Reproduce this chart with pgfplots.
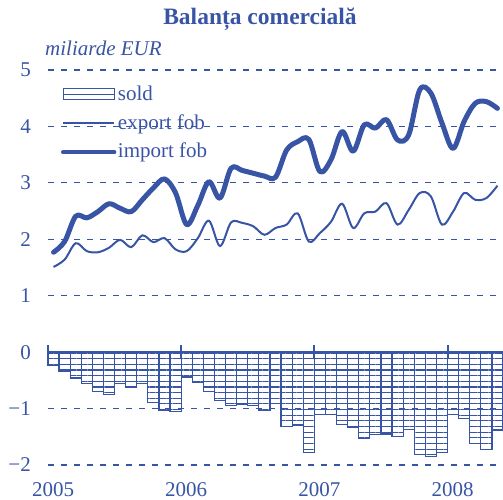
\documentclass[border=0pt]{standalone}
\usepackage{fontspec}
\setmainfont{Liberation Serif}
\usepackage{pgfplots}
\pgfplotsset{compat=1.18}
\usepackage{pgfplotstable}
\usetikzlibrary{patterns.meta}
\definecolor{cb}{RGB}{56,84,164}

\pgfplotstableread{
x sold
0.5 -0.23
1.5 -0.35
2.5 -0.46
3.5 -0.56
4.5 -0.70
5.5 -0.75
6.5 -0.56
7.5 -0.63
8.5 -0.56
9.5 -0.89
10.5 -1.03
11.5 -1.05
12.5 -0.44
13.5 -0.54
14.5 -0.70
15.5 -0.85
16.5 -0.94
17.5 -0.93
18.5 -0.95
19.5 -1.03
20.5 -0.91
21.5 -1.32
22.5 -1.29
23.5 -1.78
24.5 -1.11
25.5 -1.11
26.5 -1.28
27.5 -1.34
28.5 -1.53
29.5 -1.46
30.5 -1.45
31.5 -1.49
32.5 -1.37
33.5 -1.81
34.5 -1.85
35.5 -1.78
36.5 -1.11
37.5 -1.17
38.5 -1.62
39.5 -1.72
40.5 -1.38
}\soldtable

\pgfplotstableread{
x exp imp
0.5 1.51 1.77
1.5 1.64 1.96
2.5 1.93 2.41
3.5 1.79 2.38
4.5 1.77 2.49
5.5 1.85 2.63
6.5 1.99 2.55
7.5 1.86 2.49
8.5 2.07 2.70
9.5 1.95 2.91
10.5 2.02 3.07
11.5 1.82 2.82
12.5 1.79 2.26
13.5 2.02 2.60
14.5 2.33 3.02
15.5 1.88 2.73
16.5 2.30 3.26
17.5 2.29 3.22
18.5 2.23 3.17
19.5 2.08 3.12
20.5 2.20 3.10
21.5 2.26 3.58
22.5 2.46 3.73
23.5 1.96 3.77
24.5 2.11 3.20
25.5 2.31 3.41
26.5 2.63 3.91
27.5 2.20 3.56
28.5 2.46 4.03
29.5 2.49 3.97
30.5 2.64 4.12
31.5 2.26 3.76
32.5 2.52 3.85
33.5 2.82 4.65
34.5 2.76 4.59
35.5 2.26 4.06
36.5 2.49 3.61
37.5 2.82 4.09
38.5 2.70 4.41
39.5 2.73 4.44
40.5 2.95 4.32
}\flowtable

\begin{document}
\fontsize{21}{25}\selectfont
\begin{tikzpicture}[font=\fontsize{21}{25}\selectfont]
\begin{axis}[
  at={(0pt,0pt)}, anchor=south west,
  scale only axis, width=455pt, height=395pt,
  xmin=0, xmax=41, ymin=-2, ymax=5,
  axis line style={draw=none},
  ytick={-2,-1,0,1,2,3,4,5},
  yticklabels={−2,−1,0,1,2,3,4,5},
  xtick={0,12,24,36},
  xticklabels={2005,2006,2007,2008},
  major tick length=0pt,
  ymajorgrids,
  grid style={cb, dash pattern=on 6pt off 7pt, line width=1.1pt},
  tick label style={text=cb, font=\fontsize{21}{25}\selectfont},
  yticklabel style={xshift=-10pt},
  xticklabel style={yshift=-10pt, xshift=5pt},
  clip=false,
  legend style={draw=none, fill=none, at={(0.028,0.965)}, anchor=north west,
    font=\fontsize{21}{25}\selectfont, text=cb, inner sep=0pt, row sep=8pt,
    nodes={inner sep=1.5pt}},
  legend cell align=left,
]
\addlegendimage{legend image code/.code={
    \draw[cb, line width=1.2pt] (0pt,-5.5pt) rectangle (51pt,5.5pt);
    \draw[cb, line width=1.2pt] (0pt,0pt) -- (51pt,0pt);}}
\addlegendentry{sold}
\addplot[ybar, bar width=1, bar shift=0, draw=cb, line width=1.2pt, forget plot,
  pattern={Lines[angle=0,distance=5.65pt,line width=1.1pt]}, pattern color=cb
] table[x=x, y=sold] {\soldtable};
\addplot[cb, line width=2pt, smooth, tension=0.55, no markers,
  legend image code/.code={\draw[cb, line width=2pt] (0pt,0pt) -- (51pt,0pt);}
] table[x=x, y=exp] {\flowtable};
\addlegendentry{export fob}
\addplot[cb, line width=5pt, smooth, tension=0.55, no markers, line cap=round, line join=round,
  legend image code/.code={\draw[cb, line width=4.5pt, line cap=round] (0pt,0pt) -- (51pt,0pt);}
] table[x=x, y=imp] {\flowtable};
\addlegendentry{import fob}
\draw[cb, line width=2pt] (axis cs:0,0) -- (axis cs:41,0);
\draw[cb, line width=2pt] (axis cs:0,-0.12) -- (axis cs:0,0.12);
\draw[cb, line width=2pt] (axis cs:12,-0.12) -- (axis cs:12,0.12);
\draw[cb, line width=2pt] (axis cs:24,-0.12) -- (axis cs:24,0.12);
\draw[cb, line width=2pt] (axis cs:36,-0.12) -- (axis cs:36,0.12);
\end{axis}
\node[text=cb, font=\bfseries\fontsize{23.5}{27}\selectfont] at (212pt,446pt) {Balanța comercială};
\node[text=cb, font=\itshape\fontsize{21}{25}\selectfont, anchor=west, inner sep=0pt] at (-3pt,417pt) {miliarde EUR};
\pgfresetboundingbox
\path[use as bounding box] (-48pt,-35pt) rectangle (455pt,465pt);
\end{tikzpicture}
\end{document}
